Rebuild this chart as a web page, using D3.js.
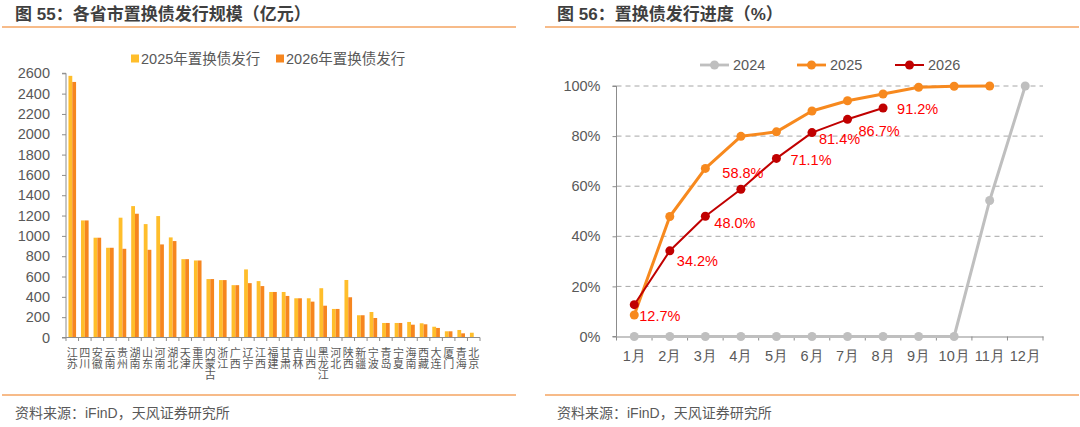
<!DOCTYPE html>
<html><head><meta charset="utf-8">
<script src="https://cdn.jsdelivr.net/npm/d3@7"></script>
<style>
html,body{margin:0;padding:0;background:#fff;}
svg{display:block;font-family:"Liberation Sans","Noto Sans CJK SC",sans-serif;}
</style></head>
<body><svg id="c" width="1080" height="427"></svg>
<script>
// ---------- data ----------
const provinces = ["江苏","四川","安徽","云南","贵州","湖南","山东","河南","湖北","天津","重庆","内蒙古","浙江","广西","辽宁","江西","福建","甘肃","吉林","山西","黑龙江","河北","陕西","新疆","宁波","青岛","宁夏","海南","西藏","大连","厦门","青海","北京"];
const issue2025 = [2575,1152,982,883,1179,1293,1116,1195,985,771,758,575,565,515,670,555,448,448,386,386,485,281,566,219,251,143,143,153,140,106,61,74,47];
const issue2026 = [2515,1152,982,883,873,1218,863,916,949,771,758,575,565,515,535,506,448,409,386,353,313,281,396,219,192,143,143,126,130,94,61,41,0];
const leftTicks = [0,200,400,600,800,1000,1200,1400,1600,1800,2000,2200,2400,2600];
const barSeries = ["2025年置换债发行","2026年置换债发行"];

const months = ["1月","2月","3月","4月","5月","6月","7月","8月","9月","10月","11月","12月"];
const prog2024 = [0,0,0,0,0,0,0,0,0,0,54.3,100];
const prog2025 = [8.6,47.9,67.1,79.9,81.7,90.0,94.1,96.8,99.5,99.9,100];
const prog2026 = [12.7,34.2,48.0,58.8,71.1,81.4,86.7,91.2];
const rightTicks = [0,20,40,60,80,100];
const lineSeries = ["2024","2025","2026"];

// ---------- styles ----------
const C25 = "#FFBE2B", C26 = "#F6861F";
const L24 = "#BFBFBF", L25 = "#F7891E", L26 = "#C00000";
const TXT = "#595959", AX = "#8C8C8C", HEAD = "#3F3F3F", RULE = "#F5A462";
// label offsets (dx, dy, anchor) for 2026 data labels
const labelPos = [[5,11,"start"],[7,10,"start"],[9,7,"start"],[2,-16,"middle"],[14,2,"start"],[7,6,"start"],[11,12,"start"],[14,1,"start"]];

const svg = d3.select("#c");

// ---------- headers & footers ----------
function frame(x0, x1, tx, title) {
  svg.append("text").attr("x", tx).attr("y", 20).attr("font-size", 17).attr("font-weight", "bold")
    .attr("fill", HEAD).text(title);
  svg.append("line").attr("x1", x0).attr("x2", x1).attr("y1", 27).attr("y2", 27)
    .attr("stroke", RULE).attr("stroke-width", 1.6);
  svg.append("line").attr("x1", x0).attr("x2", x1).attr("y1", 395).attr("y2", 395)
    .attr("stroke", RULE).attr("stroke-width", 1.6);
  svg.append("text").attr("x", tx).attr("y", 418).attr("font-size", 14).attr("fill", TXT)
    .text("资料来源：iFinD，天风证券研究所");
}
frame(2, 516, 15, "图 55：各省市置换债发行规模（亿元）");
frame(545, 1079, 557, "图 56：置换债发行进度（%）");

// ---------- left chart ----------
const lx = d3.scaleBand().domain(provinces).range([66, 480]);
const ly = d3.scaleLinear().domain([0, 2600]).range([337.5, 73.3]);
const inner = d3.scaleBand().domain([0,1]).range([0, 7.6]);
const barW = 3.8;

const yAxL = svg.append("g").attr("transform", "translate(66,0)")
  .call(d3.axisLeft(ly).tickValues(leftTicks).tickSize(4).tickPadding(12).tickFormat(d3.format("d")));
yAxL.select(".domain").attr("stroke", AX).attr("d", "M-4,73.3H0V337.5H-4");
yAxL.selectAll(".tick line").attr("stroke", AX);
yAxL.selectAll(".tick text").attr("fill", TXT).attr("font-size", 14.5).attr("font-family", "Liberation Sans");

const gBars = svg.append("g");
provinces.forEach((p, i) => {
  const x0 = lx(p) + (lx.bandwidth() - 7.6) / 2;
  [issue2025[i], issue2026[i]].forEach((v, k) => {
    if (!v) return;
    gBars.append("rect").attr("x", x0 + inner(k)).attr("width", barW)
      .attr("y", ly(v)).attr("height", ly(0) - ly(v))
      .attr("fill", k === 0 ? C25 : C26);
  });
});

// x axis baseline with ticks between categories
const xAxL = svg.append("g");
xAxL.append("line").attr("x1", 66).attr("x2", 480).attr("y1", 337.5).attr("y2", 337.5).attr("stroke", AX);
provinces.concat(["_end"]).forEach((p, i) => {
  const x = i < provinces.length ? lx(p) : 480;
  xAxL.append("line").attr("x1", x).attr("x2", x).attr("y1", 337.5).attr("y2", 341).attr("stroke", AX);
});
// vertical (stacked) category labels
svg.append("g").selectAll("text").data(provinces).join("text")
  .attr("font-size", 11).attr("fill", TXT).attr("font-family", "Noto Sans CJK SC")
  .attr("writing-mode", "vertical-rl").style("writing-mode", "vertical-rl")
  .attr("x", p => lx(p) + lx.bandwidth() / 2).attr("y", 347.5).text(p => p);

// legend left
const legL = [[131, C25], [276, C26]];
barSeries.forEach((s, i) => {
  svg.append("rect").attr("x", legL[i][0]).attr("y", 54.5).attr("width", 8).attr("height", 8).attr("fill", legL[i][1]);
  svg.append("text").attr("x", legL[i][0] + 10).attr("y", 63.5).attr("font-size", 14.5).attr("fill", TXT).text(s);
});

// ---------- right chart ----------
const rx = d3.scaleBand().domain(months).range([616.5, 1043]);
const ry = d3.scaleLinear().domain([0, 100]).range([336.5, 86]);
const cx = m => rx(m) + rx.bandwidth() / 2;

// gridlines
svg.append("g").selectAll("line").data(rightTicks.filter(d => d > 0)).join("line")
  .attr("x1", 616.5).attr("x2", 1043).attr("y1", d => ry(d)).attr("y2", d => ry(d))
  .attr("stroke", "#A6A6A6").attr("stroke-dasharray", "5,4").attr("stroke-width", 1);

const yAxR = svg.append("g").attr("transform", "translate(616.5,0)")
  .call(d3.axisLeft(ry).tickValues(rightTicks).tickSize(4).tickPadding(12).tickFormat(d => d + "%"));
yAxR.select(".domain").attr("stroke", AX).attr("d", "M-4,86H0V336.5H-4");
yAxR.selectAll(".tick line").attr("stroke", AX);
yAxR.selectAll(".tick text").attr("fill", TXT).attr("font-size", 14.5).attr("font-family", "Liberation Sans");

const xAxR = svg.append("g").attr("transform", "translate(0,336.5)")
  .call(d3.axisBottom(rx).tickSize(0).tickPadding(14));
xAxR.select(".domain").attr("stroke", AX).attr("stroke-width", 1.2);
xAxR.selectAll(".tick text").attr("fill", TXT).attr("font-size", 14.5);
months.concat(["_e"]).forEach((m, i) => {
  const x = i < months.length ? rx(m) : 1043;
  xAxR.append("line").attr("x1", x).attr("x2", x).attr("y1", 0).attr("y2", 4).attr("stroke", AX);
});

const line = d3.line().x((d, i) => cx(months[i])).y(d => ry(d));
function series(vals, color, w, r) {
  const g = svg.append("g");
  g.append("path").attr("d", line(vals)).attr("fill", "none").attr("stroke", color)
    .attr("stroke-width", w).attr("stroke-linejoin", "round");
  g.selectAll("circle").data(vals).join("circle")
    .attr("cx", (d, i) => cx(months[i])).attr("cy", d => ry(d)).attr("r", r).attr("fill", color);
}
series(prog2024, L24, 3, 4.5);
series(prog2025, L25, 3, 4.5);
series(prog2026, L26, 2, 4.5);

// data labels 2026
prog2026.forEach((v, i) => {
  const [dx, dy, anc] = labelPos[i];
  svg.append("text").attr("x", cx(months[i]) + dx).attr("y", ry(v) + dy + 5)
    .attr("text-anchor", anc).attr("font-size", 14.5).attr("fill", "#FF0000")
    .text(v.toFixed(1) + "%");
});

// legend right
const legR = [[700, L24, 2.8], [797, L25, 2.8], [895, L26, 2]];
lineSeries.forEach((s, i) => {
  const [x, c, w] = legR[i];
  svg.append("line").attr("x1", x).attr("x2", x + 29).attr("y1", 65).attr("y2", 65).attr("stroke", c).attr("stroke-width", w);
  svg.append("circle").attr("cx", x + 14.5).attr("cy", 65).attr("r", 4.5).attr("fill", c);
  svg.append("text").attr("x", x + 33).attr("y", 70).attr("font-size", 14.5).attr("fill", TXT).text(s);
});
</script></body></html>
